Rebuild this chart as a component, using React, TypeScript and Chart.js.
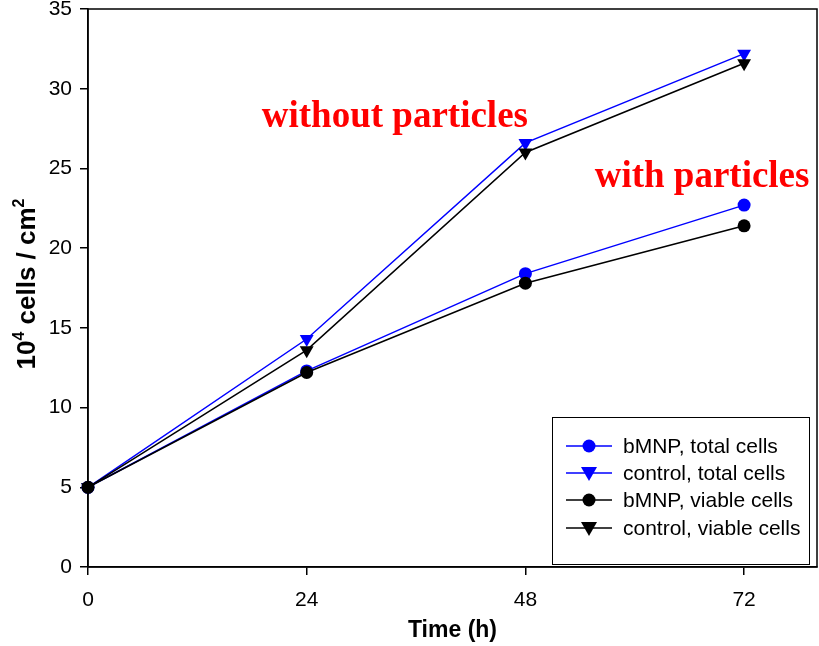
import React, { useEffect, useRef } from "react";
import { Chart, registerables } from "chart.js";

Chart.register(...registerables);

const timePoints = [0, 24, 48, 72];
const bmnpTotal = [5, 12.3, 18.4, 22.7];
const controlTotal = [5, 14.3, 26.6, 32.2];
const bmnpViable = [5, 12.2, 17.8, 21.4];
const controlViable = [5, 13.6, 26.0, 31.6];
const xTickValues = [0, 24, 48, 72];
const seriesLabels = ["bMNP, total cells", "control, total cells", "bMNP, viable cells", "control, viable cells"];
const seriesColors = ["#0000ff", "#0000ff", "#000000", "#000000"];
const seriesShapes = ["circle", "triangle", "circle", "triangle"];
const annotations = [
  { text: "without particles", x: 19.07, y: 27.6 },
  { text: "with particles", x: 55.6, y: 23.84 },
];

const SANS = "'Liberation Sans', Arial, sans-serif";
const SERIF = "'Liberation Serif', 'Times New Roman', serif";

function toPoints(vals: number[]) {
  return vals.map((v, i) => ({ x: timePoints[i], y: v }));
}

const decorPlugin = {
  id: "decor",
  afterDraw(chart: any) {
    const ctx = chart.ctx as CanvasRenderingContext2D;
    const ca = chart.chartArea;
    const xs = chart.scales.x;
    const ys = chart.scales.y;
    ctx.save();
    // frame
    ctx.strokeStyle = "#000";
    ctx.lineWidth = 1.5;
    ctx.strokeRect(ca.left, ca.top, ca.right - ca.left, ca.bottom - ca.top);

    // annotations
    ctx.fillStyle = "#ff0000";
    ctx.font = `bold 37px ${SERIF}`;
    ctx.textBaseline = "alphabetic";
    ctx.textAlign = "left";
    for (const a of annotations) {
      ctx.fillText(a.text, xs.getPixelForValue(a.x), ys.getPixelForValue(a.y));
    }

    // x title
    ctx.fillStyle = "#000";
    ctx.font = `bold 23px ${SANS}`;
    ctx.textAlign = "center";
    ctx.textBaseline = "middle";
    ctx.fillText("Time (h)", (ca.left + ca.right) / 2, 631);

    // y title with superscripts
    const parts: [string, boolean][] = [["10", false], ["4", true], [" cells / cm", false], ["2", true]];
    const big = `bold 26px ${SANS}`;
    const small = `bold 16px ${SANS}`;
    let total = 0;
    for (const [t, sup] of parts) {
      ctx.font = sup ? small : big;
      total += ctx.measureText(t).width;
    }
    ctx.save();
    ctx.translate(25, 284);
    ctx.rotate(-Math.PI / 2);
    ctx.textAlign = "left";
    ctx.textBaseline = "alphabetic";
    let cx = -total / 2;
    for (const [t, sup] of parts) {
      ctx.font = sup ? small : big;
      ctx.fillText(t, cx, sup ? -1 : 10);
      cx += ctx.measureText(t).width;
    }
    ctx.restore();

    // legend
    const bx = 552, by = 417, bw = 257, bh = 147;
    ctx.fillStyle = "#fff";
    ctx.fillRect(bx, by, bw, bh);
    ctx.strokeStyle = "#000";
    ctx.lineWidth = 1;
    ctx.strokeRect(bx + 0.5, by + 0.5, bw, bh);
    const rowY = [446, 473, 500, 528];
    ctx.font = `21px ${SANS}`;
    ctx.textAlign = "left";
    ctx.textBaseline = "middle";
    seriesLabels.forEach((lab, i) => {
      const y = rowY[i];
      ctx.strokeStyle = seriesColors[i];
      ctx.lineWidth = 1.5;
      ctx.beginPath();
      ctx.moveTo(566, y);
      ctx.lineTo(612, y);
      ctx.stroke();
      ctx.fillStyle = seriesColors[i];
      ctx.beginPath();
      if (seriesShapes[i] === "circle") {
        ctx.arc(589, y, 6.5, 0, Math.PI * 2);
      } else {
        ctx.moveTo(581, y - 6);
        ctx.lineTo(597, y - 6);
        ctx.lineTo(589, y + 8);
        ctx.closePath();
      }
      ctx.fill();
      ctx.fillStyle = "#000";
      ctx.fillText(lab, 623, y + 1);
    });
    ctx.restore();
  },
};

export default function App() {
  const ref = useRef<HTMLCanvasElement | null>(null);
  useEffect(() => {
    if (!ref.current) return;
    const series = [bmnpTotal, controlTotal, bmnpViable, controlViable];
    const chart = new Chart(ref.current, {
      type: "line",
      data: {
        datasets: series.map((vals, i) => ({
          label: seriesLabels[i],
          data: toPoints(vals),
          borderColor: seriesColors[i],
          backgroundColor: seriesColors[i],
          borderWidth: 1.5,
          pointStyle: seriesShapes[i] as any,
          pointRotation: seriesShapes[i] === "triangle" ? 180 : 0,
          pointRadius: seriesShapes[i] === "triangle" ? 8 : 6.5,
          pointBorderWidth: 0,
          fill: false,
          tension: 0,
          clip: false as any,
          order: i >= 2 ? 0 : 1,
        })),
      },
      options: {
        animation: false,
        responsive: false,
        devicePixelRatio: 1,
        layout: { autoPadding: false, padding: { top: 9, right: 2, left: 0, bottom: 0 } },
        plugins: { legend: { display: false }, tooltip: { enabled: false } },
        scales: {
          x: {
            type: "linear",
            min: 0,
            max: 80,
            afterFit: (s: any) => {
              s.height = 79;
              s.paddingLeft = 0; s.paddingRight = 0; s.paddingTop = 0; s.paddingBottom = 0;
            },
            afterBuildTicks: (s: any) => { s.ticks = xTickValues.map((v) => ({ value: v })); },
            grid: { drawOnChartArea: false, drawTicks: true, tickLength: 8, color: "#000", lineWidth: 1.5 },
            border: { display: true, color: "#000", width: 1.5 },
            ticks: { color: "#000", font: { family: SANS, size: 21 }, padding: 13, maxRotation: 0 },
          },
          y: {
            type: "linear",
            min: 0,
            max: 35,
            afterFit: (s: any) => {
              s.width = 88;
              s.paddingLeft = 0; s.paddingRight = 0; s.paddingTop = 0; s.paddingBottom = 0;
            },
            grid: { drawOnChartArea: false, drawTicks: true, tickLength: 8, color: "#000", lineWidth: 1.5 },
            border: { display: true, color: "#000", width: 1.5 },
            ticks: { color: "#000", font: { family: SANS, size: 21 }, padding: 8, stepSize: 5 },
          },
        },
      },
      plugins: [decorPlugin],
    });
    return () => chart.destroy();
  }, []);
  return (
    <div style={{ position: "absolute", left: 0, top: 0, width: 819, height: 646, background: "#fff" }}>
      <canvas ref={ref} width={819} height={646} />
    </div>
  );
}
